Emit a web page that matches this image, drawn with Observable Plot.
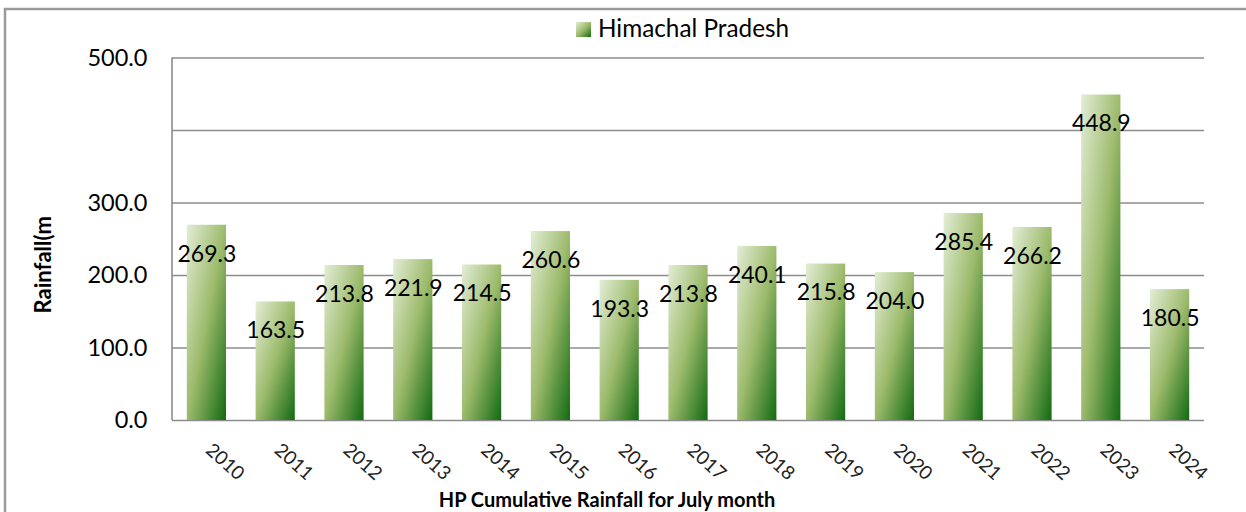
<!DOCTYPE html>
<html>
<head>
<meta charset="utf-8">
<script src="https://cdn.jsdelivr.net/npm/d3@7"></script>
<script src="https://cdn.jsdelivr.net/npm/@observablehq/plot@0.6"></script>
<style>
  html, body { margin: 0; padding: 0; background: #fff; }
  svg { display: block; }
</style>
</head>
<body>
<div id="chart"></div>
<script>
const years = ["2010","2011","2012","2013","2014","2015","2016","2017","2018","2019","2020","2021","2022","2023","2024"];
const rainfall = [269.3,163.5,213.8,221.9,214.5,260.6,193.3,213.8,240.1,215.8,204.0,285.4,266.2,448.9,180.5];
const yTickLabels = [0,100,200,300,500];
const gridValues = [0,100,200,300,400,500];
const seriesName = "Himachal Pradesh";
const yTitle = "Rainfall(m";
const xTitle = "HP Cumulative Rainfall for July month";

const data = years.map((y, i) => ({year: y, value: rainfall[i]}));
const FONT = "Lato, 'Open Sans', sans-serif";
const W = 1246, H = 512;
const ML = 172, MR = 42, MT = 57.5, MB = 92;

const chart = Plot.plot({
  width: W, height: H,
  marginLeft: ML, marginRight: MR, marginTop: MT, marginBottom: MB,
  style: {fontFamily: FONT, background: "#fff", color: "#000"},
  x: {type: "band", domain: years, paddingInner: 0.43, paddingOuter: 0.215, round: false, axis: null},
  y: {domain: [0, 500], axis: null},
  marks: [
    Plot.gridY(gridValues, {stroke: "#8c8c8c", strokeOpacity: 1, strokeWidth: 1.6}),
    Plot.barY(data, {x: "year", y: "value", fill: "url(#barGrad)"}),
    Plot.text(data, {x: "year", y: "value", text: d => d.value.toFixed(1), dy: 29, fontSize: 23, fill: "#000"}),
    Plot.axisY({ticks: yTickLabels, tickSize: 0, tickPadding: 25, tickFormat: d => d.toFixed(1), fontSize: 23.5, fill: "#000", anchor: "left", label: null}),
    Plot.text(years, {x: d => d, frameAnchor: "bottom", text: d => d, rotate: 42, dx: 14, dy: 46, fontSize: 19, fill: "#222"})
  ]
});

const svg = d3.select(chart);
const defs = svg.insert("defs", ":first-child");
const g = defs.append("linearGradient").attr("id", "barGrad")
  .attr("x1", 0).attr("y1", 0).attr("x2", 1).attr("y2", 1);
g.append("stop").attr("offset", "0%").attr("stop-color", "#e3edd6");
g.append("stop").attr("offset", "50%").attr("stop-color", "#9dbb6c");
g.append("stop").attr("offset", "100%").attr("stop-color", "#126a12");

const ys = chart.scale("y");
const y0 = ys.apply(0), y1 = ys.apply(500);
// left axis line
svg.append("line").attr("x1", ML).attr("x2", ML).attr("y1", y1).attr("y2", y0)
  .attr("stroke", "#8c8c8c").attr("stroke-width", 1.6);

// outer chart-area border (left and top)
svg.append("path").attr("d", `M5,${H} V9 H${W}`)
  .attr("fill", "none").attr("stroke", "#9a9a9a").attr("stroke-width", 2.5);

// legend
svg.append("rect").attr("x", 576).attr("y", 22).attr("width", 15).attr("height", 15)
  .attr("fill", "url(#barGrad)");
svg.append("text").attr("x", 598).attr("y", 37).attr("text-anchor", "start").text(seriesName)
  .attr("font-family", FONT).attr("font-size", 24.3).attr("fill", "#000");

// y title
svg.append("text").attr("transform", `translate(51,${(y0 + y1) / 2 + 26}) rotate(-90)`)
  .attr("text-anchor", "middle").text(yTitle)
  .attr("font-family", FONT).attr("font-size", 22).attr("font-weight", "bold").attr("fill", "#000");

// x title
svg.append("text").attr("x", 607).attr("y", 507).attr("text-anchor", "middle").text(xTitle)
  .attr("font-family", FONT).attr("font-size", 20).attr("font-weight", "bold").attr("fill", "#000");

document.getElementById("chart").appendChild(chart);
</script>
</body>
</html>
